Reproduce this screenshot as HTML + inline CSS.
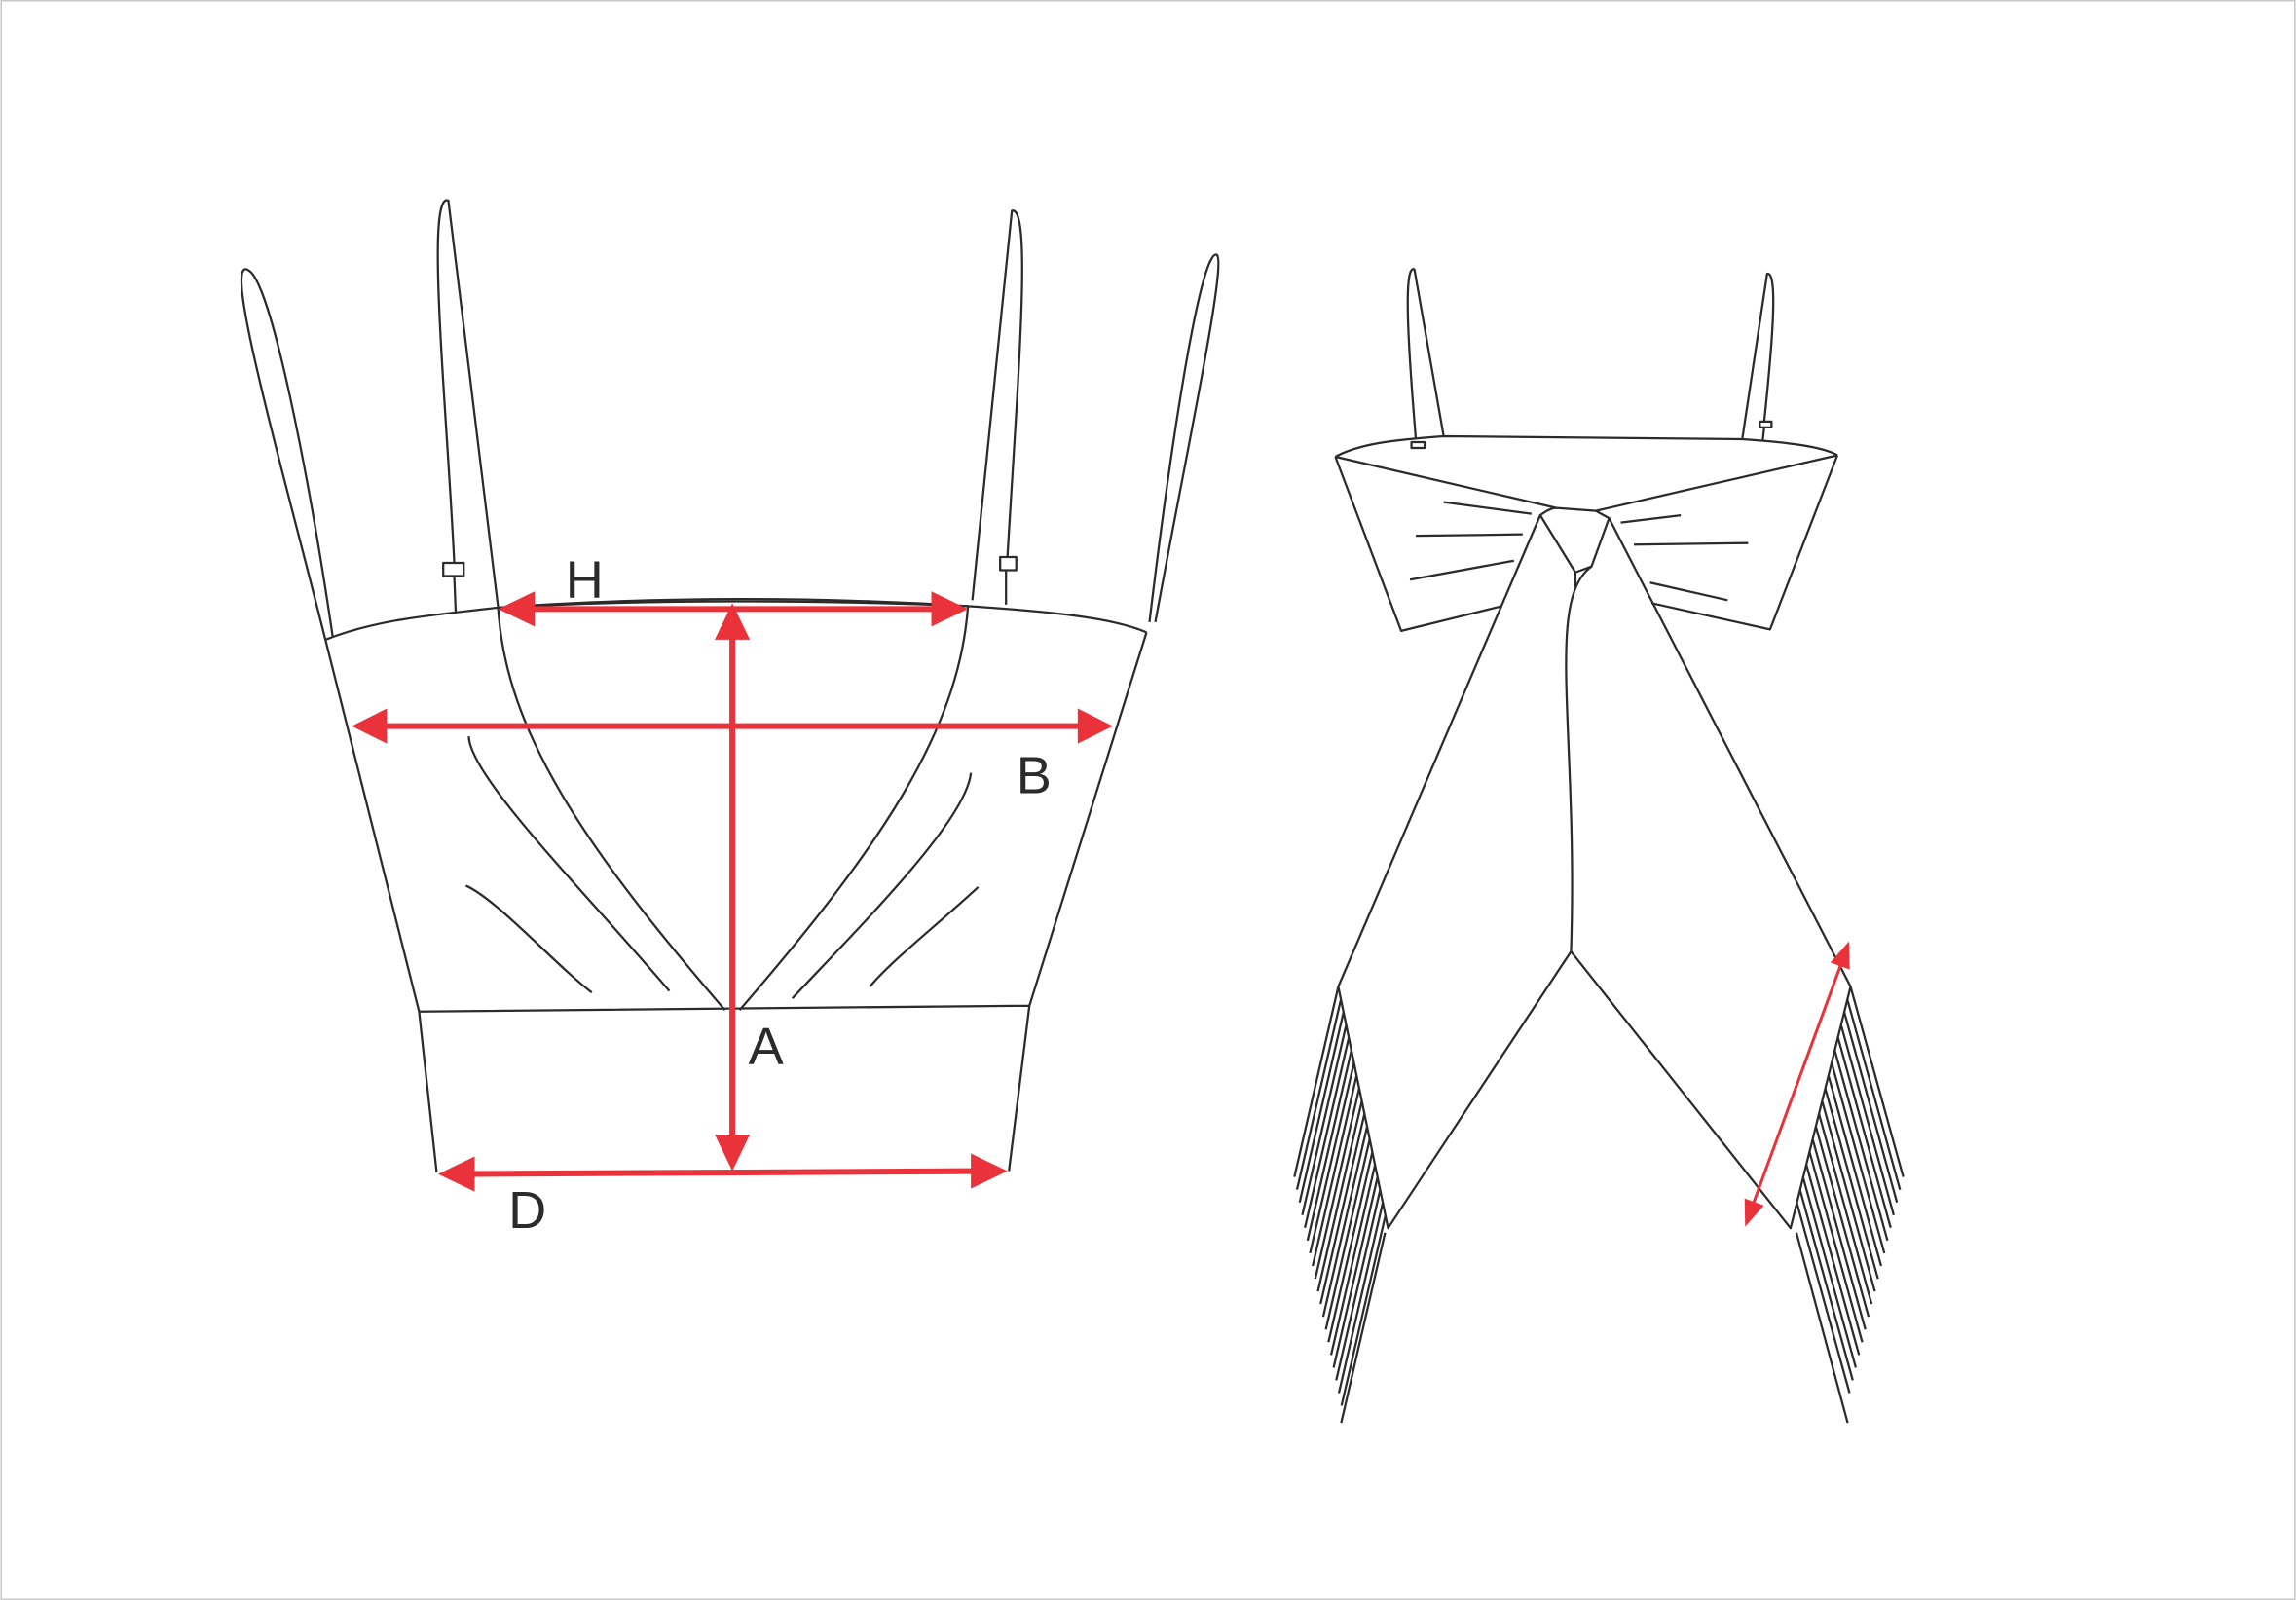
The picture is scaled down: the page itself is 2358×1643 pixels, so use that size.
<!DOCTYPE html>
<html><head><meta charset="utf-8"><style>
html,body{margin:0;padding:0;background:#fff;}
svg{display:block;}
</style></head><body>
<svg width="2358" height="1643" viewBox="0 0 1568 1093" xmlns="http://www.w3.org/2000/svg">
<rect x="0.5" y="0.5" width="1567" height="1092" fill="#fff" stroke="#c8c8c8" stroke-width="1"/>
<g fill="none" stroke="#2b2b2b" stroke-width="1.5" stroke-linejoin="round">
<!-- left garment -->
<path d="M222,437 C190,310 150,170 170,185 C185,195 210,320 227,435"/>
<path d="M311,418 L310,393"/>
<rect x="302.5" y="384.5" width="14" height="9" fill="#fff"/>
<path d="M310,384 C305,280 290,130 306,137 L340,415"/>
<path d="M664,410 L691,144 C705,140 695,260 688,380"/>
<rect x="683" y="380.5" width="11" height="9" fill="#fff"/>
<path d="M687,389.5 L687,413"/>
<path d="M785,425 C800,300 820,170 831,174 C838,180 810,310 789,425"/>
<path d="M222,437 C260,422 300,420 340,415 C450,409 560,410 661,414 C720,418 760,422 783,432"/>
<path d="M340,415 Q500,404 661,414"/>
<path d="M222,437 L286,691 M783,432 L703,687 M286,691 L703,687 M286,691 L298,801 M703,687 L689,800"/>
<path d="M340,415 C345,500 400,580 495,690"/>
<path d="M661,414 C655,500 600,580 505,690"/>
<path d="M320,503 C320,530 400,610 457,677"/>
<path d="M318,605 C340,615 380,660 404,678"/>
<path d="M663,528 C660,560 590,630 541,682"/>
<path d="M668,606 C640,632 610,655 594,674"/>
<!-- right garment -->
<path d="M967,300 C962,240 958,180 966,184 L986,298"/>
<rect x="964" y="302" width="9" height="4"/>
<path d="M1190,300 L1207,187 C1215,185 1210,240 1205,288"/>
<rect x="1202" y="288" width="8" height="4"/>
<path d="M1205,292 L1204,301"/>
<path d="M912,312 C930,302 960,300 986,298 L1190,300 C1220,302 1245,305 1255,311"/>
<path d="M912,312 L1063,347 M1255,311 L1090,349"/>
<path d="M912,312 L957,431 L1026,414"/>
<path d="M1255,311 L1209,430 L1128,412"/>
<path d="M1052,352 C1056,349 1060,347 1063,347 L1090,349 L1099,354 L1087,387 L1076,391 Z"/>
<path d="M1076,391 L1076,401"/>
<path d="M1052,352 L914,674 L948,839 L1073,650 C1078,500 1055,410 1087,387"/>
<path d="M1099,354 L1264,674 L1223,839 L1073,650"/>
<path d="M986,343 L1046,351 M967,366 L1040,365 M963,396 L1034,383 M1107,357 L1148,352 M1116,372 L1194,371 M1127,398 L1180,410"/>
<!-- fringes -->
<path d="M914,674 L884,804 M915.8,682.7 L885.8,812.7 M917.6,691.4 L887.6,821.4 M919.4,700.1 L889.4,830.1 M921.2,708.7 L891.2,838.7 M923,717.4 L893,847.4 M924.7,726.1 L894.7,856.1 M926.5,734.8 L896.5,864.8 M928.3,743.5 L898.3,873.5 M930.1,752.2 L900.1,882.2 M931.9,760.8 L901.9,890.8 M933.7,769.5 L903.7,899.5 M935.5,778.2 L905.5,908.2 M937.3,786.9 L907.3,916.9 M939.1,795.6 L909.1,925.6 M940.8,804.3 L910.8,934.3 M942.6,812.9 L912.6,942.9 M944.4,821.6 L914.4,951.6 M946.2,830.3 L916.2,960.3 M946,842 L916,972"/>
<path d="M1264,674 L1300,804 M1261.8,682.7 L1297.8,812.7 M1259.7,691.4 L1295.7,821.4 M1257.5,700.1 L1293.5,830.1 M1255.4,708.7 L1291.4,838.7 M1253.2,717.4 L1289.2,847.4 M1251.1,726.1 L1287.1,856.1 M1248.9,734.8 L1284.9,864.8 M1246.7,743.5 L1282.7,873.5 M1244.6,752.2 L1280.6,882.2 M1242.4,760.8 L1278.4,890.8 M1240.3,769.5 L1276.3,899.5 M1238.1,778.2 L1274.1,908.2 M1236,786.9 L1272,916.9 M1233.8,795.6 L1269.8,925.6 M1231.6,804.3 L1267.6,934.3 M1229.5,812.9 L1265.5,942.9 M1227.3,821.6 L1263.3,951.6 M1227,842 L1262,972"/>
</g>
<!-- red arrows -->
<g stroke="#ea323a" stroke-width="4" fill="none">
<line x1="360" y1="416" x2="640" y2="416"/>
<line x1="258" y1="496" x2="742" y2="496"/>
<line x1="500" y1="430" x2="500" y2="782"/>
<line x1="318" y1="802" x2="670" y2="800"/>
<line x1="1257" y1="660" x2="1198" y2="821" stroke-width="2"/>
</g>
<g fill="#ea323a">
<polygon points="340,416 365,404 365,428"/>
<polygon points="661,416 636,404 636,428"/>
<polygon points="240,496 264,484 264,508"/>
<polygon points="760,496 736,484 736,508"/>
<polygon points="500,412 488,437 512,437"/>
<polygon points="500,800 488,775 512,775"/>
<polygon points="299,802 324,790 324,814"/>
<polygon points="688,800 663,788 663,812"/>
<polygon points="1263,643 1263.4,662.3 1250.2,657.5"/>
<polygon points="1192,838 1204.8,823.5 1191.6,818.7"/>
</g>
<g font-family="Liberation Sans, sans-serif" font-size="36" fill="#2b2b2b">
<text x="386" y="408">H</text>
<text x="694" y="542">B</text>
<text x="511" y="727">A</text>
<text x="347" y="839">D</text>
</g>
</svg>
</body></html>
